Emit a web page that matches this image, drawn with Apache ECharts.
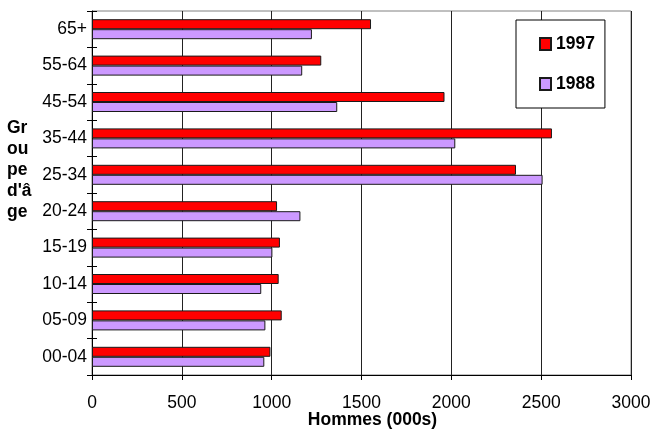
<!DOCTYPE html>
<html>
<head>
<meta charset="utf-8">
<script src="https://cdn.jsdelivr.net/npm/echarts@6/dist/echarts.min.js"></script>
<style>
  html, body { margin: 0; padding: 0; background: #fff; }
  #chart { width: 655px; height: 430px; }
</style>
</head>
<body>
<div id="chart"></div>
<script>
// Age groups, bottom to top
const ageGroups = ['00-04', '05-09', '10-14', '15-19', '20-24', '25-34', '35-44', '45-54', '55-64', '65+'];
// Men, in thousands
const men1997 = [993, 1056, 1039, 1046, 1030, 2360, 2560, 1962, 1276, 1553];
const men1988 = [959, 965, 942, 1004, 1160, 2508, 2022, 1365, 1170, 1224];
const xTicks = { min: 0, max: 3000, interval: 500 };

const FONT = '"Liberation Sans", Arial, sans-serif';
const chart = echarts.init(document.getElementById('chart'), null, { renderer: 'canvas' });

chart.setOption({
  animation: false,
  backgroundColor: '#ffffff',
  textStyle: { fontFamily: FONT },
  grid: {
    left: 92, right: 24, top: 11, bottom: 55,
    outerBoundsMode: 'none',
    containLabel: false,
    show: true, borderColor: '#808080', borderWidth: 1, backgroundColor: 'transparent'
  },
  legend: {
    data: ['1997', '1988'],
    orient: 'vertical',
    left: 516, top: 20,
    backgroundColor: '#ffffff',
    borderColor: '#000000', borderWidth: 1,
    padding: [15, 10, 15, 23],
    itemWidth: 11, itemHeight: 12,
    itemGap: 22,
    icon: 'rect',
    textStyle: { fontFamily: FONT, fontSize: 17.5, fontWeight: 'bold', color: '#000', lineHeight: 17 }
  },
  graphic: [{
    type: 'text',
    left: 7, top: 118,
    style: {
      text: "Gr\nou\npe\nd'â\nge",
      font: 'bold 17.5px ' + FONT,
      lineHeight: 21,
      fill: '#000'
    }
  }],
  xAxis: {
    type: 'value',
    min: xTicks.min, max: xTicks.max, interval: xTicks.interval,
    name: 'Hommes (000s)',
    nameLocation: 'middle',
    nameMoveOverlap: false,
    nameGap: 36,
    nameTextStyle: { fontFamily: FONT, fontSize: 17.5, fontWeight: 'bold', color: '#000', padding: [0, 0, 0, 22] },
    axisLine: { show: true, lineStyle: { color: '#000', width: 1 } },
    axisTick: { show: true, length: 5, lineStyle: { color: '#000' } },
    axisLabel: { fontFamily: FONT, fontSize: 17.5, color: '#000', margin: 19, formatter: v => String(v) },
    splitLine: { show: true, lineStyle: { color: '#222', width: 1 } }
  },
  yAxis: [{
    type: 'category',
    data: ageGroups,
    axisLine: { show: true, onZero: false, lineStyle: { color: '#000', width: 1 } },
    axisTick: { show: true, length: 5, lineStyle: { color: '#000' } },
    axisLabel: { fontFamily: FONT, fontSize: 17.5, color: '#000', margin: 5 },
    splitLine: { show: false }
  }, {
    type: 'category',
    data: ageGroups,
    position: 'left',
    axisLine: { show: false },
    axisTick: { show: true, inside: true, length: 5, lineStyle: { color: '#000' } },
    axisLabel: { show: false },
    splitLine: { show: false }
  }],
  series: [{
    name: '1997',
    type: 'bar',
    data: men1997,
    barWidth: 10,
    barGap: '0%',
    itemStyle: { color: '#FF0000', borderColor: '#1a1a1a', borderWidth: 1 }
  }, {
    name: '1988',
    type: 'bar',
    data: men1988,
    barWidth: 10,
    barGap: '0%',
    itemStyle: { color: '#CC99FF', borderColor: '#1a1a1a', borderWidth: 1 }
  }]
});
</script>
</body>
</html>
